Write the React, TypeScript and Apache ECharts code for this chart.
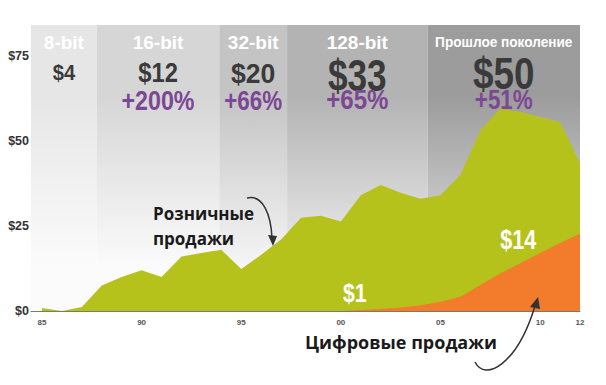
import React, { useEffect, useRef } from "react";
import * as echarts from "echarts";

const years = [1985, 1986, 1987, 1988, 1989, 1990, 1991, 1992, 1993, 1994, 1995, 1996, 1997, 1998, 1999, 2000, 2001, 2002, 2003, 2004, 2005, 2006, 2007, 2008, 2009, 2010, 2011, 2012];
const retail = [0.9, 0, 1.2, 7.5, 10, 12, 10, 16, 17, 18, 12.3, 16.5, 21, 27.4, 28, 26.3, 34, 37, 34.7, 33, 34, 40, 53, 59.5, 58.5, 57, 55.5, 43.5];
const digital = [0, 0, 0, 0, 0, 0, 0, 0, 0, 0, 0, 0, 0, 0, 0, 0, 0.3, 0.6, 1.0, 1.7, 2.7, 4.2, 7.6, 11, 14, 17, 20, 22.7];

const eraNames = ["8-bit", "16-bit", "32-bit", "128-bit", "Прошлое поколение"];
const eraStart = [1984.45, 1987.75, 1993.9, 1997.3, 2004.35];
const eraEnd = [1987.75, 1993.9, 1997.3, 2004.35, 2012];
const eraPrice = ["$4", "$12", "$20", "$33", "$50"];
const eraGrowth = ["", "+200%", "+66%", "+65%", "+51%"];
const eraColors = ["#e6e6e6", "#d6d6d6", "#c4c4c4", "#b3b3b3", "#9c9c9c"];
const eraBottom = ["#fbfbfb", "#fbfbfb", "#f6f6f6", "#eeeeee", "#dedede"];

const yTicks = [0, 25, 50, 75];
const xTicks = [1985, 1990, 1995, 2000, 2005, 2010, 2012];

const ARIAL = "'Liberation Sans', Arial, sans-serif";
const SANS = "'Open Sans', 'Noto Sans', sans-serif";

export default function App() {
  const ref = useRef<HTMLDivElement>(null);
  useEffect(() => {
    if (!ref.current) return;
    const chart = echarts.init(ref.current, null, { renderer: "svg" });
    const option: any = {
      animation: false,
      backgroundColor: "#ffffff",
      grid: { left: 31, right: 26, top: 25, bottom: 74 },
      xAxis: {
        type: "value",
        min: 1984.45,
        max: 2012,
        splitLine: { show: false },
        axisLine: { show: true, lineStyle: { color: "#7a7a70", width: 1 } },
        axisTick: { show: false },
        axisLabel: {
          customValues: xTicks,
          margin: 7,
          fontSize: 8,
          fontWeight: "bold",
          color: "#555",
          fontFamily: ARIAL,
          formatter: (v: number) => String(v % 100).padStart(2, "0"),
        },
      },
      yAxis: {
        type: "value",
        min: 0,
        max: 84,
        splitLine: { show: false },
        axisLine: { show: false },
        axisTick: { show: false },
        axisLabel: {
          customValues: yTicks,
          margin: 2,
          fontSize: 12.5,
          fontWeight: "bold",
          color: "#333",
          fontFamily: ARIAL,
          formatter: (v: number) => "$" + v,
        },
      },
      series: [
        {
          type: "line",
          z: 1,
          data: [],
          silent: true,
          markArea: {
            silent: true,
            data: eraNames.map((n, i) => [
              {
                xAxis: eraStart[i],
                itemStyle: {
                  color: new echarts.graphic.LinearGradient(0, 0, 0, 1, [
                    { offset: 0, color: eraColors[i] },
                    { offset: 0.25, color: eraColors[i] },
                    { offset: 0.85, color: eraBottom[i] },
                    { offset: 1, color: eraBottom[i] },
                  ]),
                },
              },
              { xAxis: eraEnd[i] },
            ]),
          },
        },
        {
          name: "Розничные продажи",
          type: "line",
          z: 2,
          symbol: "none",
          lineStyle: { width: 0 },
          areaStyle: { color: "#b6c21c", opacity: 1 },
          data: years.map((y, i) => [y, retail[i]]),
        },
        {
          name: "Цифровые продажи",
          type: "line",
          z: 3,
          symbol: "none",
          lineStyle: { width: 0 },
          areaStyle: { color: "#f37b2c", opacity: 1 },
          data: years.map((y, i) => [y, digital[i]]),
        },
      ],
    };
    chart.setOption(option);

    const nameSize = [19, 19, 19, 19, 15.5];
    const nameScale = [1, 1, 1, 1, 0.88];
    const priceSize = [22, 27, 28, 44, 45];
    const priceScale = [0.92, 0.88, 0.95, 0.8, 0.82];
    const priceY = [72, 72.5, 73.5, 76, 74];
    const growthY = [100, 100, 100, 99, 99];
    const growthScale = [1, 0.83, 0.8, 0.86, 0.8];
    const g: any[] = [];
    const txt = (x: number, y: number, text: string, fill: string, size: number, scaleX: number, family: string, align = "center") => ({
      type: "text",
      x,
      y,
      z: 100,
      scaleX,
      style: { text, fill, fontSize: size, fontWeight: "bold", fontFamily: family, align, verticalAlign: "middle" },
    });
    eraNames.forEach((n, i) => {
      const cx = chart.convertToPixel({ xAxisIndex: 0 }, (eraStart[i] + eraEnd[i]) / 2) as number;
      g.push(txt(cx, 42, n, "#ffffff", nameSize[i], nameScale[i], ARIAL));
      g.push(txt(cx, priceY[i], eraPrice[i], "#3a3a3a", priceSize[i], priceScale[i], ARIAL));
      if (eraGrowth[i]) g.push(txt(cx, growthY[i], eraGrowth[i], "#7c4794", 28, growthScale[i], ARIAL));
    });
    const p1 = chart.convertToPixel({ gridIndex: 0 }, [2000.7, 0]) as number[];
    const p14 = chart.convertToPixel({ gridIndex: 0 }, [2008.9, 0]) as number[];
    g.push(txt(p1[0], 293, "$1", "#ffffff", 25, 0.85, ARIAL));
    g.push(txt(p14[0], 240, "$14", "#ffffff", 27, 0.8, ARIAL));
    g.push(txt(153, 213, "Розничные", "#1a1a1a", 17, 1, SANS, "left"));
    g.push(txt(153, 238, "продажи", "#1a1a1a", 17, 1, SANS, "left"));
    g.push(txt(305, 342, "Цифровые продажи", "#1a1a1a", 18, 1, SANS, "left"));
    g.push({
      type: "bezierCurve", z: 100,
      shape: { x1: 247, y1: 198, cpx1: 263, cpy1: 194, cpx2: 271, cpy2: 215, x2: 272, y2: 238 },
      style: { stroke: "#333", lineWidth: 1.5, fill: "none" },
    });
    g.push({
      type: "polygon", z: 100,
      shape: { points: [[268, 235], [277, 236], [273, 246]] },
      style: { fill: "#333" },
    });
    g.push({
      type: "bezierCurve", z: 100,
      shape: { x1: 475, y1: 362, cpx1: 485, cpx2: 517, cpy1: 382, cpy2: 365, x2: 535, y2: 306 },
      style: { stroke: "#333", lineWidth: 1.5, fill: "none" },
    });
    g.push({
      type: "polygon", z: 100,
      shape: { points: [[530, 307], [540, 309], [538, 297]] },
      style: { fill: "#333" },
    });
    chart.setOption({ graphic: g });
    return () => chart.dispose();
  }, []);
  return <div ref={ref} style={{ position: "fixed", left: 0, top: 0, width: 606, height: 385 }} />;
}
